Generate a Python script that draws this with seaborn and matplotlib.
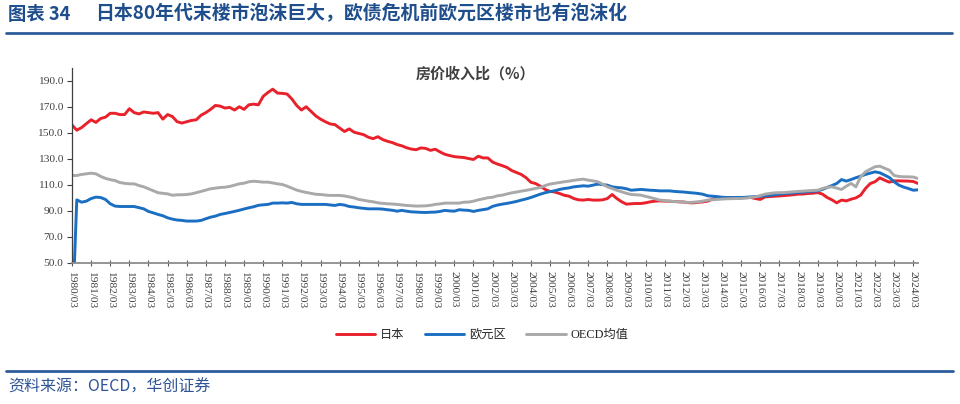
import numpy as np
import pandas as pd
import matplotlib
matplotlib.use("Agg")
import matplotlib.pyplot as plt
from matplotlib.lines import Line2D
import seaborn as sns

# ---------------- data (quarterly, 1980Q1 .. 2024Q2) ----------------
years = list(range(1980, 2025))
tick_labels = [f"{y}/03" for y in years]
series_names = ["日本", "欧元区", "OECD均值"]

japan = [
    156, 152, 154, 157,
    160, 158, 161, 162,
    165, 165, 164, 164,
    168.5, 165.5, 164.5, 166,
    165.5, 165, 165.5, 160.5,
    164, 162.5, 158.5, 157.5,
    158.5, 159.5, 160, 163.5,
    165.5, 168, 171, 170.5,
    169, 169.5, 167.5, 170,
    168, 171.5, 172, 171.5,
    178, 181, 183.5, 180.5,
    180.3, 179.8, 176, 171,
    167.5, 170, 166.5, 163,
    160.5, 158.5, 156.8, 156.3,
    153.7, 151, 153, 150.5,
    149.5, 148.6, 146.6, 145.5,
    147, 144.8, 143.5, 142.5,
    141, 140, 138.5, 137.5,
    137, 138.4, 138, 136.5,
    137.4, 135.3, 133.5, 132.5,
    131.7, 131.3, 131, 130.2,
    129.5, 132, 130.7, 130.7,
    127.5, 126, 124.8, 123.4,
    121, 119.5, 118, 115.5,
    112, 111, 109, 106.5,
    105, 104.5, 103.4, 102,
    101.3, 99.5, 98.5, 98.3,
    98.8, 98.3, 98.3, 98.5,
    99.5, 102.6, 99.5, 97,
    95.2, 95.5, 95.7, 95.7,
    96.2, 97, 97.5, 97.7,
    97.5, 97.5, 97.2, 97,
    96.8, 96.3, 96.2, 96.6,
    97, 97.5, 99, 99.8,
    100.3, 100.3, 100.3, 100.3,
    100.3, 100.3, 100.3, 99.5,
    98.8, 100.8, 101, 101.3,
    101.5, 101.8, 102.1, 102.5,
    102.9, 103, 103.4, 103.6,
    104.1, 102.9, 100.3, 98.5,
    96.2, 98.3, 97.7, 99,
    100, 102.1, 107.2, 111,
    112.4, 115.4, 113.6, 112.1,
    113.1, 113.1, 113, 112.9,
    112.6, 111.1,
]

euro = [
    0, 98.5, 96.7, 97.5,
    99.5, 100.6, 100.3, 98.8,
    95.5, 93.7, 93.4, 93.4,
    93.4, 93.4, 92.5, 91.6,
    89.6, 88.5, 87.3, 86.3,
    84.7, 83.7, 83, 82.7,
    82.2, 82.2, 82.2, 82.7,
    84, 85.2, 86, 87.3,
    88, 88.8, 89.6, 90.5,
    91.5, 92.4, 93.2, 94.3,
    94.7, 95, 96, 96,
    96.2, 96, 96.5, 95.5,
    95, 95, 95, 95,
    95, 95, 94.6, 94.2,
    95, 94.5, 93.4, 93,
    92.4, 92, 91.6, 91.6,
    91.6, 91.4, 90.9, 90.5,
    89.8, 90.4, 89.8, 89.3,
    89.1, 88.9, 88.8, 89,
    89.1, 89.6, 90.4, 90,
    89.8, 90.9, 90.6, 90.4,
    89.6, 90.4, 91, 91.6,
    93.5, 94.5, 95.2, 95.8,
    96.5, 97.3, 98.3, 99.2,
    100.3, 101.6, 102.9, 104,
    104.8, 105.5, 106.5, 107.2,
    107.7, 108.5, 108.9, 109.3,
    109, 109.8, 110.6, 110.2,
    109.8, 108.5, 108, 107.7,
    107, 105.9, 106.2, 106.5,
    106.2, 105.9, 105.7, 105.4,
    105.4, 105.4, 105, 104.7,
    104.5, 104.1, 103.8, 103.4,
    102.8, 101.6, 101.3, 101,
    100.5, 100.3, 100.3, 100.3,
    100.3, 100.5, 100.8, 101,
    101.2, 101.6, 102, 102.4,
    102.9, 103.3, 103.6, 103.9,
    104.2, 104.5, 104.8, 105.1,
    105.4, 106.5, 108, 109.5,
    111.1, 114.1, 112.9, 114.1,
    115.5, 116.7, 118, 119,
    120, 119.3, 117.5, 115.7,
    112.4, 109.8, 108.3, 107.2,
    105.9, 106.2,
]

oecd = [
    117.2, 117.2, 118, 118.5,
    119, 118.5, 116.5, 115,
    114, 113.3, 111.8, 111.2,
    110.8, 110.8, 109.5, 108.5,
    107, 105.5, 104, 103.5,
    103.1, 102, 102.4, 102.4,
    102.6, 103.1, 104, 105,
    106, 107, 107.5, 108,
    108.2, 108.8, 109.8, 110.8,
    111.3, 112.4, 112.8, 112.5,
    112.1, 112.1, 111.5, 110.8,
    110.3, 109, 107.5, 106,
    105, 104.2, 103.5, 102.8,
    102.6, 102.2, 101.9, 101.9,
    101.9, 101.5, 100.8, 100,
    98.8, 98.2, 97.5, 97,
    96.2, 95.8, 95.5, 95.3,
    95, 94.6, 94.2, 94,
    93.7, 93.8, 93.9, 94.3,
    95, 95.4, 96, 96,
    96, 96, 96.7, 96.8,
    97.5, 98.5, 99.3, 100.1,
    100.5, 101.6, 102.1, 103,
    103.9, 104.5, 105.2, 105.8,
    106.5, 107.3, 108, 109.5,
    110.6, 111.2, 111.8, 112.4,
    112.9, 113.5, 114, 114.4,
    113.6, 113.1, 112.4, 110.6,
    108.5, 107.2, 105.8, 104.7,
    103.5, 102.6, 102.4, 102.1,
    101.2, 100.3, 99.3, 98.3,
    98, 97.5, 97.2, 97,
    96.8, 96.5, 96.7, 97,
    97.6, 98.3, 98.6, 98.8,
    99.1, 99.3, 99.4, 99.5,
    99.5, 99.8, 100.3, 100.8,
    101.8, 102.9, 103.4, 103.9,
    104, 104.1, 104.4, 104.7,
    105, 105.2, 105.5, 105.7,
    105.9, 107.2, 108.2, 108.5,
    107.5, 106.5, 109, 111.1,
    108.5, 116.2, 120, 122,
    123.9, 124.4, 122.8, 121.3,
    117.2, 116.5, 116.2, 116.2,
    116, 114.9,
]

colors = ["#E8212B", "#1B6FC2", "#A9A9A9"]

n = len(japan)
q = np.arange(n)
df = pd.DataFrame({"q": q, series_names[0]: japan,
                   series_names[1]: euro, series_names[2]: oecd})
long = df.melt(id_vars="q", var_name="series", value_name="value")

# ---------------- styling ----------------
sns.set_theme(style="white")
plt.rcParams["font.family"] = ["Liberation Serif", "Noto Sans CJK SC", "DejaVu Sans"]

W, H = 960, 404
fig = plt.figure(figsize=(W / 100, H / 100), dpi=100)
ax = fig.add_axes([72 / W, 1 - 263 / H, (918 - 72) / W, (263 - 67.7) / H])

sns.lineplot(data=long, x="q", y="value", hue="series", hue_order=series_names,
             palette=colors, linewidth=2.1, errorbar=None, ax=ax)

ax.set_xlim(0, n - 1)
ax.set_ylim(50, 200)
yt = np.arange(50, 200, 20)
ax.set_yticks(yt)
ax.set_yticklabels([f"{v:.1f}" for v in yt], fontsize=8.2, color="#404040")
ax.set_xticks(np.arange(0, n, 4))
ax.set_xticklabels(tick_labels, rotation=270, fontsize=8.2, color="#404040",
                   va="top", ha="center")
ax.set_xlabel("")
ax.set_ylabel("")
for s in ["top", "right"]:
    ax.spines[s].set_visible(False)
ax.spines["left"].set_color("#404040")
ax.spines["left"].set_linewidth(0.9)
ax.spines["bottom"].set_color("#8C8C8C")
ax.spines["bottom"].set_linewidth(1.3)
ax.tick_params(axis="y", direction="out", length=3.5, width=0.8, color="#404040", pad=3, left=True)
ax.tick_params(axis="x", direction="inout", length=5, width=0.8, color="#595959", pad=3, bottom=True)

handles, labels = ax.get_legend_handles_labels()
ax.get_legend().remove()
fig.legend(handles, labels, loc="center", bbox_to_anchor=(482 / W, 1 - 335 / H),
           ncol=3, frameon=False, fontsize=8.8, handlelength=3.2,
           handletextpad=0.4, columnspacing=1.7)

# ---------------- texts ----------------
title_color = "#1F4E8C"
fig.text(8 / W, 1 - 14 / H, "图表 34", fontsize=13.2, fontweight="bold",
         color=title_color, va="center", ha="left",
         family=["Noto Sans CJK SC", "DejaVu Sans"])
fig.text(95 / W, 1 - 14 / H, "日本80年代末楼市泡沫巨大，欧债危机前欧元区楼市也有泡沫化",
         fontsize=13.6, fontweight="bold", color=title_color, va="center", ha="left",
         family=["Noto Sans CJK SC", "DejaVu Sans"])
fig.add_artist(Line2D([6 / W, 952 / W], [1 - 33 / H, 1 - 33 / H],
                      color="#2E5C9A", linewidth=2.0))
fig.text(475 / W, 1 - 73 / H, "房价收入比（%）", fontsize=10.8, fontweight="bold",
         color="#404040", va="center", ha="center",
         family=["Noto Sans CJK SC", "DejaVu Sans"])
fig.add_artist(Line2D([6 / W, 953 / W], [1 - 371 / H, 1 - 371 / H],
                      color="#2E5C9A", linewidth=2.0))
fig.text(8 / W, 1 - 387 / H, "资料来源：OECD，华创证券", fontsize=11.5, style="italic",
         color="#2F5597", va="center", ha="left",
         family=["Noto Sans CJK SC", "DejaVu Sans"])

fig.savefig("out.png", dpi=100)
